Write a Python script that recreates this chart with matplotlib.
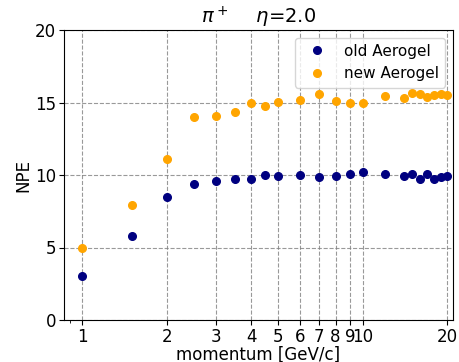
import matplotlib
matplotlib.use("Agg")
import matplotlib.pyplot as plt
from matplotlib.ticker import FixedLocator, NullFormatter

momentum = [1, 1.5, 2, 2.5, 3, 3.5, 4, 4.5, 5, 6, 7, 8, 9, 10, 12, 14, 15, 16, 17, 18, 19, 20]
old_npe = [3.03, 5.76, 8.51, 9.40, 9.56, 9.75, 9.75, 9.98, 9.93, 9.98, 9.89, 9.95, 10.05, 10.23,
           10.05, 9.95, 10.07, 9.75, 10.05, 9.70, 9.84, 9.91]
new_npe = [5.0, 7.94, 11.08, 13.97, 14.06, 14.33, 14.95, 14.79, 15.02, 15.14, 15.57, 15.09, 15.0, 15.0,
           15.46, 15.32, 15.67, 15.6, 15.39, 15.5, 15.62, 15.55]
xtick_vals = [1, 2, 3, 4, 5, 6, 7, 8, 9, 10, 20]
xtick_labels = ["1", "2", "3", "4", "5", "6", "7", "8", "9", "10", "20"]

fig = plt.figure(figsize=(4.6, 3.62), dpi=100)
ax = fig.add_axes([64/460, 1 - 320/362, (453-64)/460, (320-30)/362])

ax.plot(momentum, old_npe, 'o', color='navy', markersize=5.5, label='old Aerogel')
ax.plot(momentum, new_npe, 'o', color='orange', markersize=5.5, label='new Aerogel')

ax.set_xscale('log')
ax.set_xlim(0.86, 21.0)
ax.set_ylim(0, 20)
ax.xaxis.set_major_locator(FixedLocator(xtick_vals))
ax.set_xticklabels(xtick_labels)
ax.xaxis.set_minor_locator(FixedLocator([0.9]))
ax.xaxis.set_minor_formatter(NullFormatter())
ax.set_yticks([0, 5, 10, 15, 20])
ax.tick_params(labelsize=12, pad=2, length=3.5)
ax.grid(True, which='major', linestyle='--', color='gray', alpha=0.8, linewidth=0.8)

ax.set_xlabel('momentum [GeV/c]', fontsize=12, labelpad=0)
ax.set_ylabel('NPE', fontsize=12, labelpad=2)
ax.set_title(r'$\pi^+$    $\eta$=2.0', fontsize=14, pad=4)
ax.legend(loc='upper right', fontsize=11)

fig.savefig('out.png', dpi=100)
